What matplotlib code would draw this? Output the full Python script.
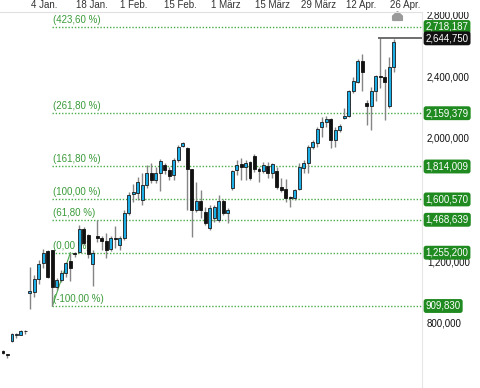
import numpy as np
import matplotlib
matplotlib.use('Agg')
import matplotlib.pyplot as plt
from matplotlib.path import Path
from matplotlib.patches import Rectangle
from matplotlib.transforms import blended_transform_factory

plt.rcParams['font.family'] = ['Liberation Sans', 'DejaVu Sans']

# daily candles, values in thousands
opens = [618, 599, 683, 725, 722, 745, 994, 1001, 1085, 1189,
         1266, 1273, 1033, 1078, 1124, 1202, 1253, 1260, 1409, 1370,
         1182, 1364, 1351, 1331, 1279, 1351, 1305, 1351, 1513, 1636,
         1642, 1597, 1694, 1772, 1727, 1772, 1824, 1791, 1759, 1856,
         1947, 1934, 1798, 1532, 1590, 1519, 1415, 1480, 1467, 1590,
         1513, 1675, 1791, 1830, 1811, 1843, 1882, 1798, 1785, 1817,
         1772, 1785, 1681, 1668, 1616, 1610, 1668, 1804, 1837, 1940,
         1966, 2070, 2102, 2122, 1986, 2051, 2128, 2141, 2303, 2362,
         2498, 2226, 2206, 2303, 2401, 2394, 2206, 2459]
highs = [625, 600, 735, 732, 754, 751, 1163, 1111, 1208, 1279,
         1273, 1275, 1091, 1143, 1195, 1255.2, 1260, 1435, 1422, 1377,
         1273, 1467, 1364, 1383, 1364, 1428, 1364, 1532, 1649, 1701,
         1746, 1772, 1824, 1837, 1811, 1863, 1837, 1811, 1869, 1953,
         1973, 1940, 1800, 1714, 1662, 1552, 1565, 1565, 1629, 1603,
         1545, 1791, 1856, 1869, 1856, 1850, 1895, 1811, 1843, 1843,
         1837, 1811, 1740, 1733, 1623, 1668, 1837, 1856, 1953, 1986,
         2070, 2135, 2141, 2128, 2070, 2090, 2193, 2310, 2394, 2511,
         2543, 2245, 2329, 2407, 2644.75, 2446, 2524, 2640]
lows = [599, 573, 677, 702, 719, 728, 890, 968, 1052, 1156,
        1091, 909.83, 1014, 1065, 1098, 1072, 1227, 1253, 1305, 1221,
        1040, 1325, 1273, 1221, 1266, 1286, 1273, 1338, 1500, 1584,
        1597, 1565, 1675, 1707, 1707, 1655, 1765, 1727, 1727, 1843,
        1940, 1532, 1357, 1519, 1480, 1435, 1402, 1454, 1454, 1500,
        1448, 1662, 1759, 1727, 1727, 1727, 1778, 1714, 1772, 1740,
        1740, 1668, 1649, 1584, 1552, 1597, 1662, 1772, 1772, 1927,
        1940, 2005, 2070, 1934, 1940, 2038, 2122, 2135, 2290, 2355,
        2303, 2083, 2051, 2239, 2323, 2115, 2193, 2427]
closes = [605, 592, 728, 728, 748, 748, 1007, 1085, 1182, 1253,
          1098, 1033, 1078, 1124, 1189, 1156, 1244, 1409, 1318, 1247,
          1253, 1351, 1331, 1273, 1351, 1344, 1351, 1513, 1629, 1646,
          1714, 1694, 1772, 1727, 1772, 1850, 1791, 1752, 1856, 1940,
          1966, 1798, 1532, 1590, 1532, 1448, 1545, 1552, 1590, 1513,
          1532, 1785, 1824, 1811, 1837, 1740, 1798, 1785, 1824, 1772,
          1830, 1681, 1662, 1610, 1607, 1662, 1811, 1837, 1940, 1973,
          2057, 2102, 2122, 1986, 2051, 2077, 2141, 2303, 2368, 2498,
          2427, 2206, 2303, 2401, 2394, 2362, 2459, 2621]

date_labels = ['4 Jan.', '18 Jan.', '1 Feb.', '15 Feb.', '1 März',
               '15 März', '29 März', '12 Apr.', '26 Apr.']
date_pos = [9.1, 19.8, 29.2, 39.6, 49.7, 60.1, 70.2, 79.7, 89.5]

fib_pct = ['423,60 %', '261,80 %', '161,80 %', '100,00 %', '61,80 %',
           '0,00 %', '-100,00 %']
fib_vals = [2718187, 2159379, 1814009, 1600570, 1468639, 1255200, 909830]
fib_start = 11
fib_end = 15
peak_val = 2644750
y_ticks = [800000, 1200000, 1600000, 2000000, 2400000, 2800000]

o = np.array(opens) * 1000
h = np.array(highs) * 1000
l = np.array(lows) * 1000
c = np.array(closes) * 1000
x = np.arange(len(o))

up_col = '#1eaee6'
green_line = '#4aad4a'
green_txt = '#3a9a3a'
green_box = '#1f8a1f'

fig = plt.figure(figsize=(4.8, 3.88), dpi=100)
ax = fig.add_axes([0, 0, 422 / 480, 1 - 12 / 388])
xmin, xmax = -0.67, 93.3
ax.set_xlim(xmin, xmax)
ax.set_ylim(378300, 2815400)

# fibonacci levels
ax.hlines(fib_vals, fib_start, xmax, colors=green_line, lw=1,
          linestyles=(0, (1, 1.3)), zorder=1)
ax.plot([fib_start, fib_end], [fib_vals[-1], fib_vals[-2]], color=green_line,
        lw=0.8, zorder=1)
for pct, v in zip(fib_pct, fib_vals):
    ax.annotate('(' + pct + ')', (fib_start + 0.2, v), xytext=(0, 1.5),
                textcoords='offset points', ha='left', va='bottom',
                fontsize=7, color=green_txt, zorder=2)

# candles
ax.vlines(x, l, h, colors='#858585', lw=1, zorder=3)
up = c >= o
ax.bar(x[up], (c - o)[up], bottom=o[up], width=0.66, color=up_col,
       edgecolor='#1a1a1a', lw=0.6, zorder=4)
ax.bar(x[~up], (o - c)[~up], bottom=c[~up], width=0.66, color='#111111',
       edgecolor='#111111', lw=0.6, zorder=4)

# high line
ax.hlines(peak_val, 83.5, xmax, colors='#555555', lw=1.2, zorder=5)

# right axis
ax.set_xticks([])
ax.yaxis.tick_right()
ax.set_yticks(y_ticks)
ax.yaxis.set_major_formatter(plt.FuncFormatter(lambda v, p: f'{v:,.0f}'))
ax.tick_params(axis='y', length=0, pad=3.6, labelsize=7, labelcolor='#111111')
for s in ['left', 'bottom']:
    ax.spines[s].set_visible(False)
ax.spines['right'].set_color('#e6e6e6')
ax.spines['top'].set_color('#e0e0e0')
ax.spines['top'].set_zorder(13)

ytr = blended_transform_factory(ax.transAxes, ax.transData)
for v in fib_vals:
    ax.text(1.0085, v, f'{v:,}', transform=ytr, ha='left', va='center',
            fontsize=7, color='white', clip_on=False, zorder=6,
            bbox=dict(boxstyle='round,pad=0.2,rounding_size=0.25',
                      fc=green_box, ec='none'))
ax.text(1.0085, peak_val, f'{peak_val:,}', transform=ytr, ha='left',
        va='center', fontsize=7, color='white', clip_on=False, zorder=7,
        bbox=dict(boxstyle='round,pad=0.2,rounding_size=0.25',
                  fc='#111111', ec='none'))

# top date band
ax.add_patch(Rectangle((0, 1.0), 1.2, 0.05, transform=ax.transAxes,
                       fc='white', ec='none', zorder=11, clip_on=False))
xtr = blended_transform_factory(ax.transData, ax.transAxes)
for lab, p in zip(date_labels, date_pos):
    ax.text(p, 1 + 7 / 376, lab, transform=xtr, ha='center', va='center',
            fontsize=7, color='#333333', zorder=12, clip_on=False)

# event marker
house = Path([(-1, -0.8), (1, -0.8), (1, 0.1), (0, 1), (-1, 0.1), (-1, -0.8)])
ax.plot([87.7], [1 - 4 / 376], marker=house, markersize=7, color='#9a9a9a',
        transform=xtr, clip_on=False, zorder=12, lw=0)

fig.savefig('out.png', dpi=100)
